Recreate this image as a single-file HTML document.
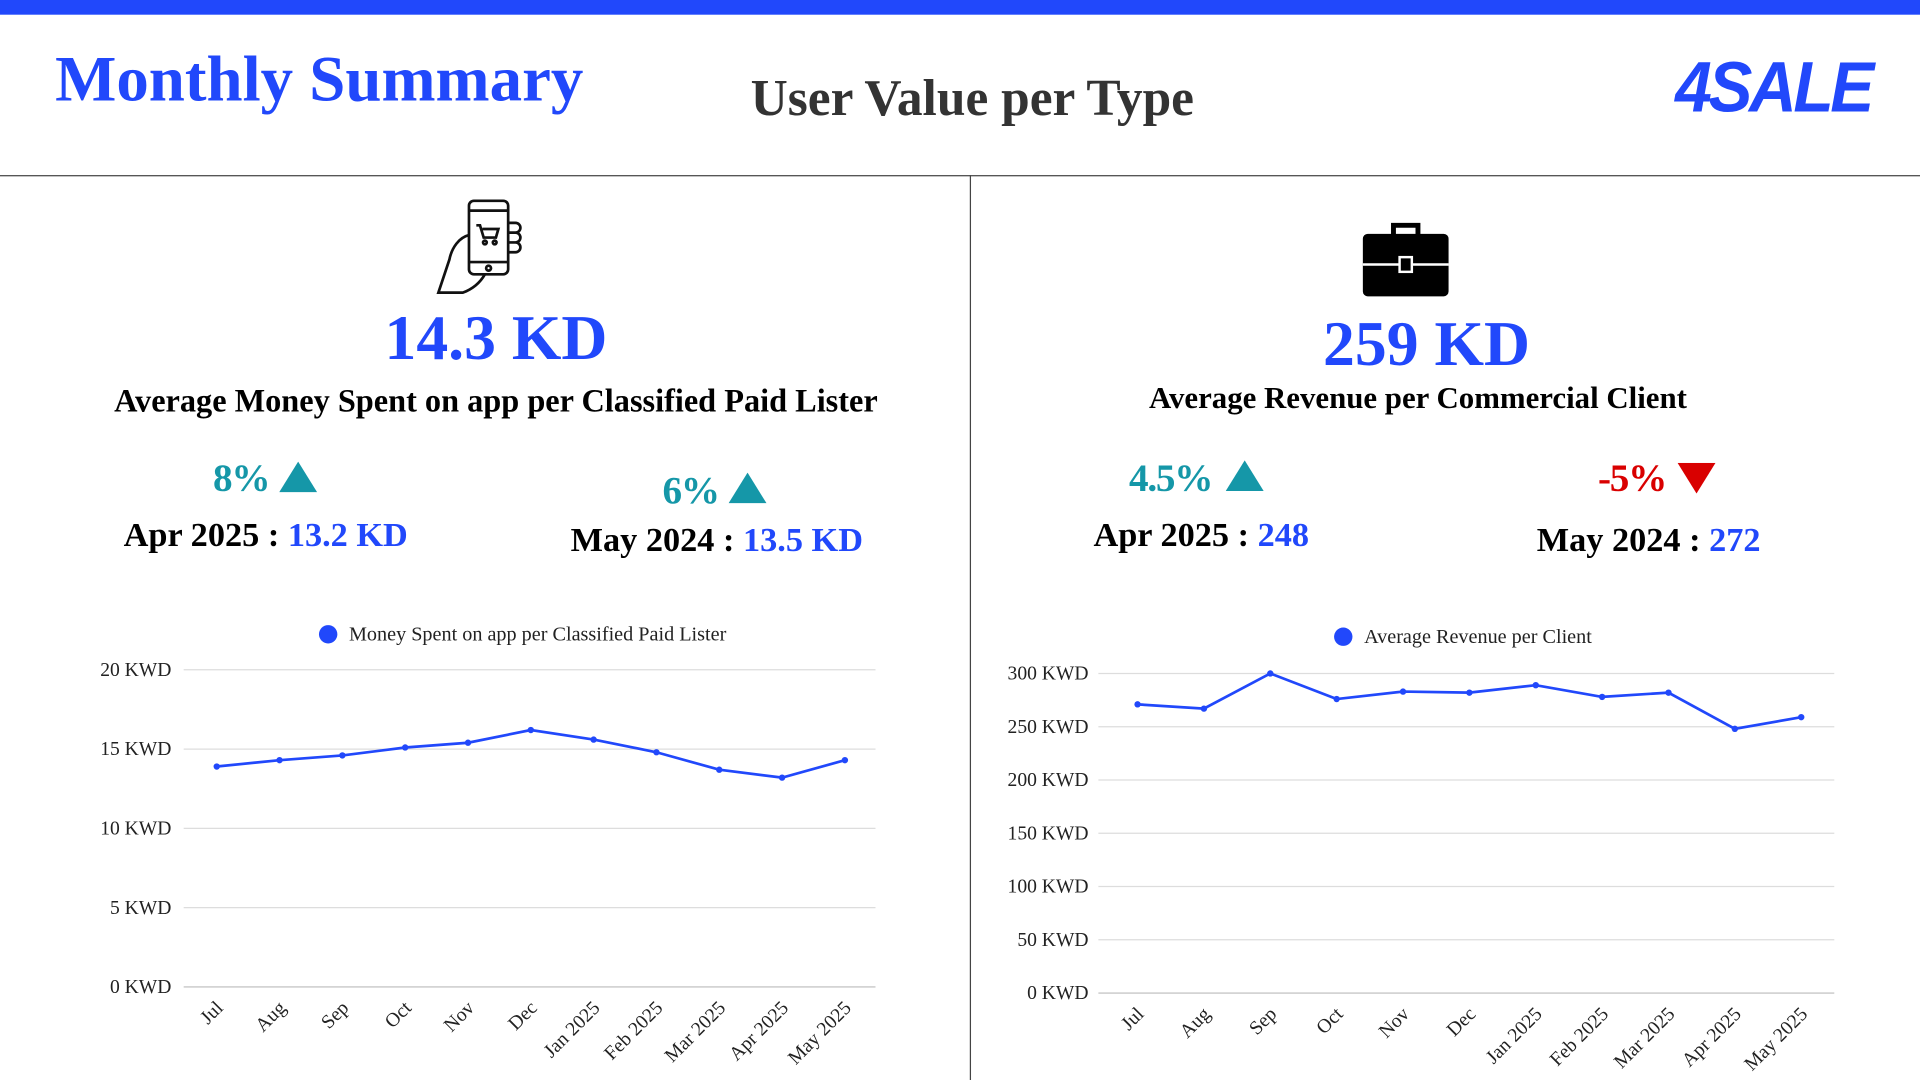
<!DOCTYPE html>
<html><head><meta charset="utf-8"><style>
html,body{margin:0;padding:0;background:#fff;overflow:hidden;width:1920px;height:1080px}
#wrap{position:absolute;left:0;top:0;width:1568px;height:882px;transform:scale(1.2244898);transform-origin:0 0;font-family:"Liberation Serif",serif}
.a{position:absolute;white-space:nowrap}
.b{font-weight:bold}
.blue{color:#2148fb}.teal{color:#1597a8}.red{color:#d90000}
</style></head><body>
<div id="wrap">
<div class="a" style="left:0;top:0;width:1568px;height:12px;background:#2148fb"></div>
<div class="a b blue" style="left:45px;top:35px;font-size:53px">Monthly Summary</div>
<div class="a b" style="left:613px;top:57px;font-size:42px;color:#333">User Value per Type</div>
<div class="a b blue" style="left:1368px;top:38px;font-family:'Liberation Sans',sans-serif;font-size:58px;font-style:italic;letter-spacing:-3px;transform:scaleX(0.93);transform-origin:0 0">4SALE</div>
<div class="a" style="left:0;top:143px;width:1568px;height:1px;background:#444"></div>
<div class="a" style="left:792px;top:143px;width:1px;height:739px;background:#444"></div>

<svg class="a" style="left:355px;top:162px" width="75" height="80" viewBox="0 0 75 80"><g fill="none" stroke="#111" stroke-width="2.2"><rect x="28" y="2" width="32" height="60" rx="4"/><line x1="28" y1="10" x2="60" y2="10"/><line x1="28" y1="52" x2="60" y2="52"/><circle cx="44" cy="57" r="2"/><path d="M34 22h3l3 10h10l2-7H39"/><circle cx="41" cy="36" r="1.5"/><circle cx="49" cy="36" r="1.5"/><path d="M60 20h6a4 4 0 0 1 0 8h-6M60 28h6a4 4 0 0 1 0 8h-6M60 36h6a4 4 0 0 1 0 8h-6"/><path d="M28 30c-8 2-14 10-16 20L3 77h20c8-3 14-8 18-15"/></g></svg>
<svg class="a" style="left:1112px;top:180px" width="72" height="63" viewBox="0 0 72 63"><path d="M26 12V4h20v8" fill="none" stroke="#000" stroke-width="4"/><rect x="1" y="11" width="70" height="51" rx="4" fill="#000"/><line x1="1" y1="36" x2="71" y2="36" stroke="#fff" stroke-width="2"/><rect x="31" y="30" width="10" height="12" fill="#000" stroke="#fff" stroke-width="2"/></svg>

<div class="a b blue" style="left:0;width:810px;text-align:center;top:247px;font-size:52px">14.3 KD</div>
<div class="a b" style="left:0;width:810px;text-align:center;top:312px;font-size:26.4px">Average Money Spent on app per Classified Paid Lister</div>
<div class="a b teal" style="left:174px;top:372px;font-size:32px;letter-spacing:-1px">8%</div>
<svg class="a" style="left:228px;top:377px" width="31" height="25"><polygon points="15.5,0 31,25 0,25" fill="#1597a8"/></svg>
<div class="a b" style="left:101px;top:422px;font-size:28px">Apr 2025 : <span class="blue">13.2 KD</span></div>
<div class="a b teal" style="left:541px;top:382px;font-size:32px;letter-spacing:-1px">6%</div>
<svg class="a" style="left:595px;top:386px" width="31" height="25"><polygon points="15.5,0 31,25 0,25" fill="#1597a8"/></svg>
<div class="a b" style="left:466px;top:426px;font-size:28px">May 2024 : <span class="blue">13.5 KD</span></div>

<div class="a b blue" style="left:790px;width:750px;text-align:center;top:252px;font-size:52px">259 KD</div>
<div class="a b" style="left:783px;width:750px;text-align:center;top:312px;font-size:25.2px">Average Revenue per Commercial Client</div>
<div class="a b teal" style="left:922px;top:372px;font-size:32px;letter-spacing:-1px">4.5%</div>
<svg class="a" style="left:1001px;top:376px" width="31" height="25"><polygon points="15.5,0 31,25 0,25" fill="#1597a8"/></svg>
<div class="a b" style="left:893px;top:422px;font-size:28px">Apr 2025 : <span class="blue">248</span></div>
<div class="a b red" style="left:1305px;top:372px;font-size:32px;letter-spacing:-1px">-5%</div>
<svg class="a" style="left:1370px;top:378px" width="31" height="25"><polygon points="0,0 31,0 15.5,25" fill="#d90000"/></svg>
<div class="a b" style="left:1255px;top:426px;font-size:28px">May 2024 : <span class="blue">272</span></div>

<svg class="a" id="chart" style="left:0;top:0" width="1568" height="882"></svg>
</div>
<script>
const months = ["Jul","Aug","Sep","Oct","Nov","Dec","Jan 2025","Feb 2025","Mar 2025","Apr 2025","May 2025"];
const moneySpent = [13.9,14.3,14.6,15.1,15.4,16.2,15.6,14.8,13.7,13.2,14.3];
const moneyTicks = [0,5,10,15,20];
const revenue = [271,267,300,276,283,282,289,278,282,248,259];
const revenueTicks = [0,50,100,150,200,250,300];
const NS = "http://www.w3.org/2000/svg";
const svg = document.getElementById("chart");
function mk(tag, attrs, parent){const e=document.createElementNS(NS,tag);for(const k in attrs)e.setAttribute(k,attrs[k]);(parent||svg).appendChild(e);return e;}
function draw(cfg){
  const g = mk("g",{});
  
  
  const yMax = cfg.ticks[cfg.ticks.length-1];
  const y = v => cfg.y0 - (v/yMax)*(cfg.y0-cfg.y1);
  const x = i => cfg.xa + i*(cfg.xb-cfg.xa)/(cfg.cats.length-1);
  cfg.ticks.forEach(t=>{
    const l = mk("line",{x1:cfg.gl,x2:cfg.gr,y1:y(t),y2:y(t),stroke:t===0?"#bbb":"#ddd","stroke-width":1},g);
    
    
    const tx = mk("text",{x:cfg.lx,y:y(t)+5,"text-anchor":"end","font-size":16,"font-family":"Liberation Serif, serif",fill:"#222"},g);
    tx.textContent = t+" KWD";
    
    
  });
  cfg.cats.forEach((c,i)=>{
    const tx = mk("text",{x:x(i)+6,y:cfg.y0+18,"text-anchor":"end","font-size":16,"font-family":"Liberation Serif, serif",fill:"#222",transform:`rotate(-45 ${x(i)+6} ${cfg.y0+18})`},g);
    tx.textContent = c;
    
    
  });
  const p = mk("polyline",{points:cfg.vals.map((v,i)=>x(i)+","+y(v)).join(" "),fill:"none",stroke:"#2148fb","stroke-width":2.2},g);
  
  
  cfg.vals.forEach((v,i)=>{
    const c = mk("circle",{cx:x(i),cy:y(v),r:2.6,fill:"#2148fb"},g);
    
    
  });
  const lc = mk("circle",{cx:cfg.legX,cy:cfg.legY,r:7.5,fill:"#2148fb"},g);
  
  
  const lt = mk("text",{x:cfg.legX+17,y:cfg.legY+5,"font-size":16.5,"font-family":"Liberation Serif, serif",fill:"#222"},g);
  lt.textContent = cfg.legend;
  
  
}
draw({name:"money-spent-chart",cats:months,vals:moneySpent,ticks:moneyTicks,y0:806,y1:547,xa:177,xb:690,gl:150,gr:715,lx:140,legX:268,legY:518,legend:"Money Spent on app per Classified Paid Lister"});
draw({name:"revenue-chart",cats:months,vals:revenue,ticks:revenueTicks,y0:811,y1:550,xa:929,xb:1471,gl:897,gr:1498,lx:889,legX:1097,legY:520,legend:"Average Revenue per Client"});
</script>
</body></html>
